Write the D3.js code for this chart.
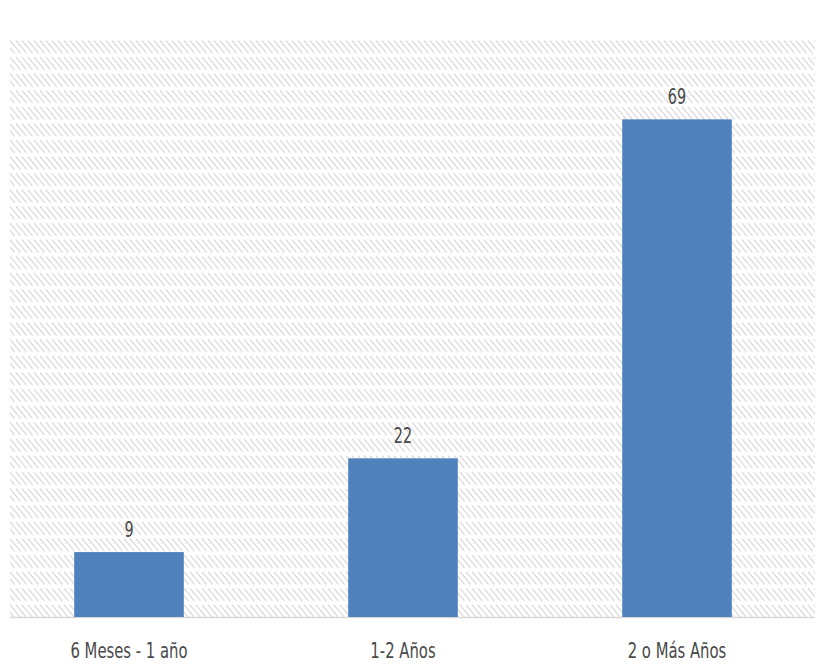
<!DOCTYPE html>
<html>
<head>
<meta charset="utf-8">
<script src="https://cdn.jsdelivr.net/npm/d3@7"></script>
<style>
  html, body { margin: 0; padding: 0; background: #ffffff; }
  svg { display: block; }
  text { font-family: "Liberation Sans Narrow", "Arial Narrow", "DejaVu Sans Condensed", sans-serif; fill: #4a4a4a; }
</style>
</head>
<body>
<svg id="chart" width="824" height="671"></svg>
<script>
// Duration categories and their counts
const categories = ["6 Meses - 1 año", "1-2 Años", "2 o Más Años"];
const values = [9, 22, 69];
const yDomain = [0, 80];

const svg = d3.select("#chart");
const plot = { left: 10, right: 815, top: 40, bottom: 617 };
const FONT = "\"Liberation Sans Narrow\", \"Arial Narrow\", \"DejaVu Sans Condensed\", sans-serif";

const x = d3.scaleBand()
  .domain(categories)
  .range([-8, 814])
  .paddingInner(0.6)
  .paddingOuter(0.3);

const y = d3.scaleLinear()
  .domain(yDomain)
  .range([plot.bottom, plot.top]);

// Diagonal hatch fill for the plot area
const defs = svg.append("defs");
const tileW = 6, tileH = 16.6, segH = 13.2;
const pat = defs.append("pattern")
  .attr("id", "hatch")
  .attr("patternUnits", "userSpaceOnUse")
  .attr("width", tileW)
  .attr("height", tileH)
  .attr("x", plot.left)
  .attr("y", plot.top);
for (let k = -4; k <= 4; k++) {
  pat.append("line")
    .attr("x1", k * tileW).attr("y1", 0.5)
    .attr("x2", k * tileW + segH * 0.8).attr("y2", segH)
    .attr("stroke", "#d4d4d4")
    .attr("stroke-width", 1.1);
}

svg.append("rect")
  .attr("x", plot.left)
  .attr("y", plot.top)
  .attr("width", plot.right - plot.left)
  .attr("height", plot.bottom - plot.top)
  .attr("fill", "url(#hatch)");

// Baseline
svg.append("line")
  .attr("x1", plot.left).attr("x2", plot.right)
  .attr("y1", y(0) + 0.5).attr("y2", y(0) + 0.5)
  .attr("stroke", "#d9d9d9")
  .attr("stroke-width", 1.5);

// Bars
svg.selectAll("rect.bar")
  .data(values)
  .join("rect")
  .attr("class", "bar")
  .attr("x", (d, i) => x(categories[i]))
  .attr("y", d => y(d))
  .attr("width", x.bandwidth())
  .attr("height", d => y(0) - y(d))
  .attr("fill", "#4f81bd");

// Value labels (tall condensed lettering)
svg.selectAll("text.val")
  .data(values)
  .join("text")
  .attr("class", "val")
  .attr("transform", (d, i) =>
    `translate(${x(categories[i]) + x.bandwidth() / 2},${y(d) - 15}) scale(1,1.3)`)
  .attr("text-anchor", "middle")
  .attr("font-size", 16)
  .text(d => d);

// Category axis labels
const xAxis = svg.append("g")
  .attr("transform", `translate(0,${y(0)})`)
  .call(d3.axisBottom(x).tickSize(0));
xAxis.select(".domain").remove();
xAxis.selectAll("text")
  .attr("y", 0)
  .attr("dy", 0)
  .attr("transform", "translate(0,41) scale(1,1.25)")
  .attr("font-size", 16.5)
  .attr("fill", "#4a4a4a")
  .style("font-family", FONT);
</script>
</body>
</html>
